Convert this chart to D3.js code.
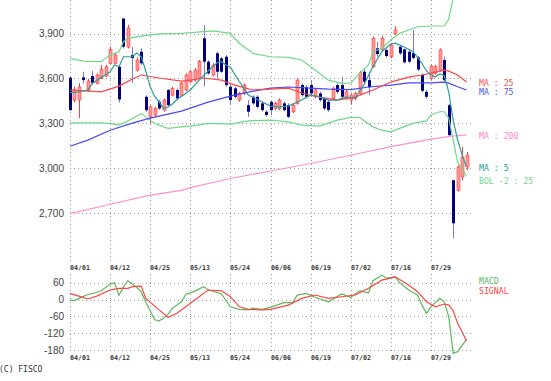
<!DOCTYPE html>
<html><head><meta charset="utf-8">
<script src="https://cdn.jsdelivr.net/npm/d3@7"></script>
<style>body{margin:0;background:#fff;overflow:hidden}svg{display:block}</style>
</head><body><svg id="c" width="551" height="381"></svg>
<script>
// ---- data ----
const tickIdx = [0, 9, 18, 27, 36, 45, 54, 63, 72, 81];
const tickLabels = ["04/01","04/12","04/25","05/13","05/24","06/06","06/19","07/02","07/16","07/29"];
const priceTicks = [2700, 3000, 3300, 3600, 3900];
const macdTicks = [60, 0, -60, -120, -180];

const opens = [3605,3456,3456,3607,3518,3616,3567,3601,3616,3701,3701,3678,4000,3810,3756,3656,3778,3478,3344,3356,
3444,3389,3523,3489,3523,3489,3523,3578,3589,3601,3868,3712,3623,3768,3734,3745,3545,3534,3456,3500,
3422,3478,3478,3434,3378,3444,3400,3400,3434,3422,3378,3434,3556,3541,3556,3478,3500,3467,3444,3467,
3556,3556,3467,3456,3467,3500,3645,3589,3678,3801,3790,3790,3745,3901,3812,3794,3778,3770,3740,3623,
3511,3601,3634,3656,3723,3422,2921,2854,2943,3010];
const highs = [3612,3545,3569,3645,3598,3651,3634,3690,3690,3812,3770,3690,4003,3957,3810,3740,3801,3489,3420,3411,
3456,3467,3530,3545,3534,3578,3634,3656,3670,3723,3957,3723,3701,3778,3745,3756,3556,3545,3511,3567,
3456,3489,3489,3445,3389,3456,3445,3467,3445,3434,3434,3600,3567,3556,3589,3534,3511,3478,3456,3545,
3567,3611,3523,3500,3511,3650,3667,3645,3880,3845,3883,3800,3835,3950,3823,3801,3790,3923,3750,3634,
3523,3690,3690,3801,3745,3430,2925,3020,3144,3110];
const lows = [3385,3440,3335,3567,3510,3560,3560,3595,3610,3695,3695,3440,3800,3800,3569,3645,3690,3375,3302,3345,
3390,3380,3415,3480,3460,3480,3515,3570,3580,3595,3545,3625,3615,3601,3638,3545,3422,3467,3445,3489,
3344,3425,3400,3380,3345,3356,3390,3390,3380,3335,3370,3425,3480,3467,3489,3467,3445,3389,3378,3456,
3500,3456,3456,3429,3456,3490,3570,3489,3670,3745,3780,3740,3734,3890,3756,3700,3701,3730,3650,3510,
3467,3590,3625,3645,3578,3215,2534,2845,2921,2988];
const closes = [3389,3527,3543,3589,3583,3571,3623,3661,3678,3794,3757,3460,3812,3937,3736,3723,3701,3389,3411,3400,
3400,3456,3422,3534,3467,3569,3623,3645,3656,3712,3712,3634,3690,3645,3645,3556,3456,3478,3500,3556,
3378,3434,3411,3389,3356,3389,3434,3456,3389,3344,3422,3589,3489,3478,3500,3523,3456,3400,3389,3534,
3511,3478,3511,3489,3500,3638,3578,3541,3868,3763,3868,3750,3823,3923,3768,3708,3712,3737,3660,3518,
3478,3683,3678,3790,3589,3222,2634,3010,3077,3088];

// [day index, value] points
const ma5 = [[0,3505],[2,3511],[4,3523],[5,3567],[7,3607],[9,3645],[10,3690],[11,3678],[12,3745],[14,3745],[15,3770],[16,3745],[17,3650],[18,3545],[19,3480],[20,3444],[21,3400],[22,3410],[23,3430],[24,3460],[25,3480],[27,3523],[29,3589],[31,3650],[33,3705],[34,3712],[35,3690],[36,3675],[38,3580],[40,3490],[42,3460],[45,3416],[47,3411],[49,3416],[52,3456],[54,3489],[56,3478],[58,3456],[60,3456],[62,3478],[64,3467],[66,3560],[68,3680],[70,3780],[72,3830],[73,3835],[75,3810],[77,3778],[78,3740],[79,3700],[80,3650],[81,3625],[82,3611],[83,3630],[84,3620],[85,3510],[86,3320],[87,3190],[88,3090],[89,3010]];
const ma25 = [[0,3523],[7,3511],[11,3549],[14,3596],[16,3623],[20,3603],[25,3583],[27,3589],[30,3603],[34,3589],[37,3556],[41,3523],[45,3529],[49,3536],[52,3503],[56,3476],[60,3456],[64,3476],[68,3523],[72,3576],[76,3609],[79,3623],[81,3636],[84,3656],[85,3649],[87,3623],[89,3576]];
const ma75 = [[0,3148],[4,3189],[9,3255],[14,3302],[18,3335],[22,3362],[25,3382],[27,3402],[31,3442],[36,3482],[40,3509],[45,3536],[49,3543],[54,3536],[58,3529],[63,3526],[67,3543],[72,3556],[76,3571],[81,3571],[84,3576],[85,3569],[87,3545],[89,3523]];
const ma200 = [[0,2699],[9,2761],[18,2822],[25,2854],[27,2872],[36,2933],[45,2983],[54,3033],[63,3088],[72,3145],[81,3195],[85,3213],[89,3224]];
const bolUpper = [[0,3734],[3,3716],[7,3712],[9,3756],[11,3778],[12,3845],[13,3868],[16,3883],[20,3897],[25,3901],[30,3912],[32,3917],[36,3901],[38,3835],[41,3768],[45,3745],[49,3741],[52,3723],[55,3656],[58,3589],[61,3567],[63,3569],[65,3634],[67,3690],[68,3778],[70,3801],[72,3857],[74,3901],[76,3923],[78,3945],[81,3950],[84,3950],[85,3997],[86,4137],[87,4250],[88,4300],[89,4320]];
const bolLower = [[0,3304],[7,3304],[9,3300],[11,3289],[13,3317],[16,3367],[17,3344],[19,3300],[22,3267],[25,3277],[27,3282],[31,3300],[36,3295],[40,3317],[45,3322],[49,3311],[52,3289],[56,3282],[60,3322],[63,3340],[65,3340],[68,3277],[70,3255],[72,3244],[74,3267],[77,3300],[80,3317],[81,3356],[83,3378],[84,3378],[85,3336],[86,3189],[87,3041],[88,2995],[89,2948]];
const macd = [[0,-2],[1,-4],[2,4],[4,18],[6,25],[7,31],[9,55],[10,60],[11,15],[12,45],[13,67],[14,55],[15,43],[16,28],[17,-10],[18,-40],[19,-72],[20,-76],[21,-67],[22,-52],[23,-31],[24,-20],[25,-8],[26,18],[28,30],[30,46],[31,35],[34,20],[36,-26],[38,-35],[40,-37],[41,-31],[43,-35],[45,-28],[48,-11],[50,-11],[51,16],[53,22],[55,8],[58,-8],[61,20],[63,8],[65,31],[67,24],[68,67],[70,87],[71,76],[73,81],[74,60],[76,34],[78,16],[79,-20],[80,-49],[81,-26],[83,4],[84,-8],[85,-61],[86,-192],[87,-186],[89,-142]];
const signal = [[0,22],[2,12],[4,2],[6,12],[9,34],[11,40],[13,40],[14,46],[16,48],[17,4],[20,-37],[22,-63],[24,-49],[26,-26],[28,-2],[30,22],[31,34],[34,31],[36,10],[38,-26],[40,-35],[43,-37],[45,-35],[49,-20],[52,4],[55,16],[58,4],[61,10],[64,16],[67,40],[70,69],[73,81],[76,52],[78,28],[80,-8],[82,-26],[84,-16],[85,-20],[86,-40],[87,-85],[88,-115],[89,-148]];

// ---- drawing ----
const svg = d3.select("#c");
const x = d3.scaleLinear().domain([0, 90]).range([70, 471]);
const y = d3.scaleLinear().domain([2700, 3900]).range([213.4, 33.5]);
const ym = d3.scaleLinear().domain([-180, 60]).range([350, 282.7]);
const gridCol = "#9a9a9a";

svg.append("defs").append("clipPath").attr("id","clipMain").append("rect")
  .attr("x", 64).attr("y", 0).attr("width", 410).attr("height", 263);
svg.select("defs").append("clipPath").attr("id","clipMacd").append("rect")
  .attr("x", 64).attr("y", 272).attr("width", 410).attr("height", 86);

const grid = svg.append("g").attr("stroke", gridCol).attr("stroke-dasharray", "1,3").attr("stroke-width", 1);
grid.selectAll(".hm").data(priceTicks).enter().append("line")
  .attr("x1", 70).attr("x2", 471).attr("y1", d => Math.round(y(d)) + 0.5).attr("y2", d => Math.round(y(d)) + 0.5);
grid.selectAll(".vm").data(tickIdx).enter().append("line")
  .attr("x1", d => Math.round(x(d)) + 0.5).attr("x2", d => Math.round(x(d)) + 0.5).attr("y1", 0).attr("y2", 263);
grid.selectAll(".hd").data(macdTicks).enter().append("line")
  .attr("x1", 70).attr("x2", 471).attr("y1", d => Math.round(ym(d)) + 0.5).attr("y2", d => Math.round(ym(d)) + 0.5);
grid.selectAll(".vd").data(tickIdx).enter().append("line")
  .attr("x1", d => Math.round(x(d)) + 0.5).attr("x2", d => Math.round(x(d)) + 0.5).attr("y1", 274).attr("y2", 353);

const yAxis = d3.axisLeft(y).tickValues(priceTicks).tickFormat(d3.format(",")).tickSize(0).tickPadding(6);
const ga = svg.append("g").attr("transform", "translate(70,0)").call(yAxis);
ga.select(".domain").remove();
ga.selectAll("text").attr("font-family", "Liberation Sans, Arial, sans-serif").attr("font-size", 10).attr("fill", "#444");

const mAxis = d3.axisLeft(ym).tickValues(macdTicks).tickFormat(d => String(d)).tickSize(0).tickPadding(6);
const gm = svg.append("g").attr("transform", "translate(70,0)").call(mAxis);
gm.select(".domain").remove();
gm.selectAll("text").attr("font-family", "Liberation Sans, Arial, sans-serif").attr("font-size", 10).attr("fill", "#444");

function dateRow(yy) {
  svg.append("g").selectAll("text").data(tickIdx).enter().append("text")
    .attr("x", d => Math.round(x(d))).attr("y", yy)
    .attr("font-family", "DejaVu Sans Mono, monospace").attr("font-weight", "bold").attr("font-size", 6.6)
    .attr("fill", "#333").attr("dominant-baseline", "middle")
    .text((d, i) => tickLabels[i]);
}
dateRow(268.5);
dateRow(358.5);

const lineM = d3.line().x(d => x(d[0])).y(d => y(d[1]));
const lineD = d3.line().x(d => x(d[0])).y(d => ym(d[1]));
const gMain = svg.append("g").attr("clip-path", "url(#clipMain)");
const cUp = "#ff9a9a", cUpS = "#ff3b3b", cDn = "#00007f", cDnW = "#7b7bc8";

const cg = gMain.append("g");
closes.forEach((c, i) => {
  const o = opens[i], up = c >= o;
  const cx = Math.round(x(i));
  cg.append("line").attr("x1", cx + 0.5).attr("x2", cx + 0.5)
    .attr("y1", y(highs[i])).attr("y2", y(lows[i]))
    .attr("stroke", up ? cUpS : cDnW).attr("stroke-width", 1);
  const top = y(Math.max(o, c)), bot = y(Math.min(o, c));
  cg.append("rect").attr("x", cx - 1).attr("y", top).attr("width", 3).attr("height", Math.max(1, bot - top))
    .attr("fill", up ? cUp : cDn).attr("stroke", up ? cUpS : "none").attr("stroke-width", up ? 0.6 : 0);
});

const lines = [
  [bolUpper, "#6fd888"], [bolLower, "#6fd888"], [ma200, "#ff8fcf"],
  [ma75, "#4848ff"], [ma25, "#ff4444"], [ma5, "#2f9a9a"]
];
lines.forEach(([d, col]) => {
  gMain.append("path").datum(d).attr("d", lineM).attr("fill", "none").attr("stroke", col).attr("stroke-width", 1.2);
});

const gMacd = svg.append("g").attr("clip-path", "url(#clipMacd)");
gMacd.append("path").datum(macd).attr("d", lineD).attr("fill", "none").attr("stroke", "#5cb85c").attr("stroke-width", 1.2);
gMacd.append("path").datum(signal).attr("d", lineD).attr("fill", "none").attr("stroke", "#ff4444").attr("stroke-width", 1.2);

const legends = [
  ["MA : 25", "#ff5050", 83], ["MA : 75", "#5050ff", 92], ["MA : 200", "#ff88cc", 136.5],
  ["MA : 5", "#2f9a9a", 168.5], ["BOL -2 : 25", "#6fd888", 181],
  ["MACD", "#5cb85c", 281], ["SIGNAL", "#ff4444", 291]
];
svg.append("g").selectAll("text").data(legends).enter().append("text")
  .attr("x", 479).attr("y", d => d[2]).attr("dominant-baseline", "middle")
  .attr("font-family", "DejaVu Sans Mono, monospace").attr("font-size", 8.2)
  .attr("fill", d => d[1]).text(d => d[0]);

svg.append("text").attr("x", -1).attr("y", 369.5).attr("dominant-baseline", "middle")
  .attr("font-family", "DejaVu Sans Mono, monospace").attr("font-size", 8).attr("fill", "#333")
  .text("(C) FISCO");
</script></body></html>
